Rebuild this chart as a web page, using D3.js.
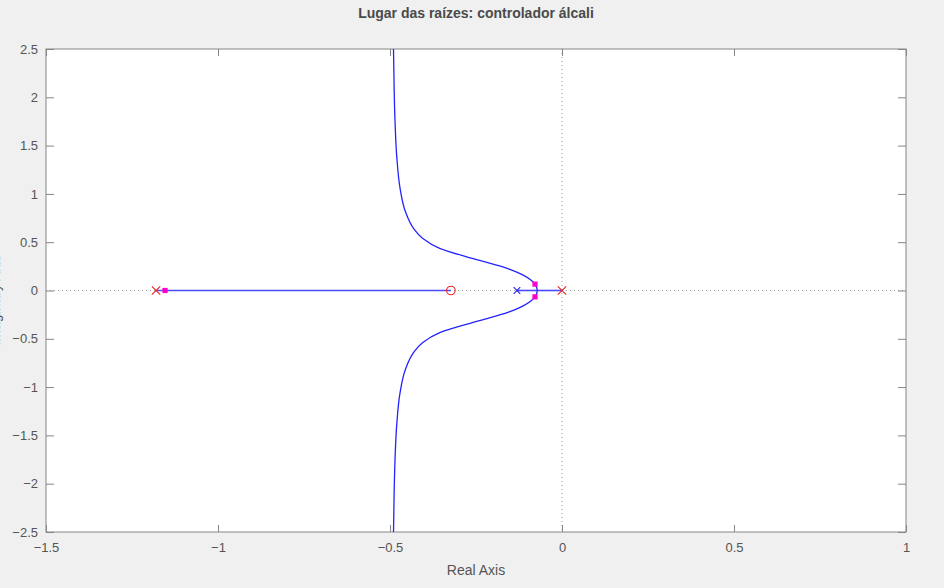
<!DOCTYPE html>
<html>
<head>
<meta charset="utf-8">
<script src="https://cdn.jsdelivr.net/npm/d3@7"></script>
<style>
  html, body { margin: 0; padding: 0; background: #f0f0f0; }
  svg { display: block; font-family: "Liberation Sans", Arial, Helvetica, sans-serif; }
</style>
</head>
<body>
<svg id="chart" width="944" height="588"></svg>
<script>
// Root locus of the alkali controller loop
const titleText = "Lugar das raízes: controlador álcali";
const xLabel = "Real Axis";
const yLabel = "Imaginary Axis";

const xTicks = [-1.5, -1, -0.5, 0, 0.5, 1];
const yTicks = [2.5, 2, 1.5, 1, 0.5, 0, -0.5, -1, -1.5, -2, -2.5];

// open-loop poles and zero
const polesRed = [-1.18, 0];
const polesBlue = [-0.131];
const zerosRe = [-0.323];

// closed-loop poles at the chosen gain
const clRe = [-1.154, -0.0785, -0.0785];
const clIm = [0, 0.066, -0.066];

// real-axis branches
const realBranchA = [-1.18, -0.323];
const realBranchB = [0, -0.072];
const realBranchC = [-0.131, -0.072];

// complex branches leaving the breakaway point
const upperRe = [-0.072, -0.0725, -0.0755, -0.0785, -0.0905, -0.1155, -0.1555, -0.2555, -0.3555, -0.4055, -0.4305, -0.4555, -0.4705, -0.4805, -0.4855, -0.4880, -0.4900];
const upperIm = [0, 0.017, 0.047, 0.066, 0.109, 0.165, 0.225, 0.327, 0.437, 0.542, 0.638, 0.820, 1.053, 1.394, 1.761, 2.098, 2.572];
const lowerRe = [-0.072, -0.0725, -0.0755, -0.0785, -0.0905, -0.1155, -0.1555, -0.2555, -0.3555, -0.4055, -0.4305, -0.4555, -0.4705, -0.4805, -0.4855, -0.4880, -0.4900];
const lowerIm = [0, -0.017, -0.047, -0.066, -0.109, -0.165, -0.225, -0.327, -0.437, -0.542, -0.638, -0.820, -1.053, -1.394, -1.761, -2.098, -2.572];

const svg = d3.select("#chart");
const L = 46, R = 906, T = 49, B = 532;

const x = d3.scaleLinear().domain([-1.5, 1]).range([L, R]);
const y = d3.scaleLinear().domain([-2.5, 2.5]).range([B, T]);

const axisColor = "#858585";
const textColor = "#555";
const locusColor = "#2323ff";

// axes background
svg.append("rect").attr("x", L).attr("y", T).attr("width", R - L).attr("height", B - T).attr("fill", "#fff");

const clipId = "plotclip";
svg.append("defs").append("clipPath").attr("id", clipId)
  .append("rect").attr("x", L).attr("y", T).attr("width", R - L).attr("height", B - T);

// dotted zero lines
svg.append("line").attr("x1", L).attr("x2", R).attr("y1", y(0)).attr("y2", y(0))
  .attr("stroke", "#9a9a9a").attr("stroke-dasharray", "1,3").attr("stroke-width", 1);
svg.append("line").attr("x1", x(0)).attr("x2", x(0)).attr("y1", T).attr("y2", B)
  .attr("stroke", "#9a9a9a").attr("stroke-dasharray", "1,3").attr("stroke-width", 1);

// axes with inward ticks
function styleAxis(g, labels) {
  g.select(".domain").remove();
  g.selectAll(".tick line").attr("stroke", axisColor);
  g.selectAll(".tick text").attr("fill", labels ? textColor : "none")
    .attr("font-size", 13);
}
svg.append("g").attr("transform", `translate(0,${B})`)
  .call(d3.axisBottom(x).tickValues(xTicks).tickFormat(d3.format("")).tickSize(-7).tickPadding(11))
  .call(g => styleAxis(g, true));
svg.append("g").attr("transform", `translate(0,${T})`)
  .call(d3.axisTop(x).tickValues(xTicks).tickFormat("").tickSize(-7))
  .call(g => styleAxis(g, false));
svg.append("g").attr("transform", `translate(${L},0)`)
  .call(d3.axisLeft(y).tickValues(yTicks).tickFormat(d3.format("")).tickSize(-8).tickPadding(8))
  .call(g => styleAxis(g, true));
svg.append("g").attr("transform", `translate(${R},0)`)
  .call(d3.axisRight(y).tickValues(yTicks).tickFormat("").tickSize(-8))
  .call(g => styleAxis(g, false));

// frame
svg.append("rect").attr("x", L).attr("y", T).attr("width", R - L).attr("height", B - T)
  .attr("fill", "none").attr("stroke", axisColor).attr("stroke-width", 1);

const plot = svg.append("g").attr("clip-path", `url(#${clipId})`);

const line = d3.line().x(d => x(d[0])).y(d => y(d[1])).curve(d3.curveMonotoneY);
const straight = d3.line().x(d => x(d[0])).y(d => y(d[1]));

[realBranchA, realBranchB, realBranchC].forEach(br => {
  plot.append("path").attr("d", straight(br.map(v => [v, 0])))
    .attr("fill", "none").attr("stroke", "#4a4aff").attr("stroke-width", 1.6);
});
plot.append("path").attr("d", line(upperRe.map((v, i) => [v, upperIm[i]])))
  .attr("fill", "none").attr("stroke", locusColor).attr("stroke-width", 1.3);
plot.append("path").attr("d", line(lowerRe.map((v, i) => [v, lowerIm[i]])))
  .attr("fill", "none").attr("stroke", locusColor).attr("stroke-width", 1.3);

// markers
function cross(g, re, color, h) {
  const cx = x(re), cy = y(0);
  g.append("path").attr("d", `M${cx - h},${cy - h}L${cx + h},${cy + h}M${cx - h},${cy + h}L${cx + h},${cy - h}`)
    .attr("stroke", color).attr("stroke-width", 1.1).attr("fill", "none");
}
polesRed.forEach(p => cross(plot, p, "#ee2222", 4.2));
polesBlue.forEach(p => cross(plot, p, "#2222ee", 3.3));
zerosRe.forEach(z => plot.append("circle").attr("cx", x(z)).attr("cy", y(0)).attr("r", 4.3)
  .attr("fill", "none").attr("stroke", "#ee2222").attr("stroke-width", 1.1));
clRe.forEach((re, i) => plot.append("rect")
  .attr("x", x(re) - 2.6).attr("y", y(clIm[i]) - 2.6).attr("width", 5.2).attr("height", 5.2)
  .attr("fill", "#ff00cc"));

// texts
svg.append("text").attr("x", 476).attr("y", 18).attr("text-anchor", "middle")
  .attr("font-size", 14).attr("font-weight", "bold").attr("fill", "#4a4a4a").text(titleText);
svg.append("text").attr("x", 476).attr("y", 575).attr("text-anchor", "middle")
  .attr("font-size", 14).attr("fill", textColor).text(xLabel);
svg.append("text").attr("transform", "translate(0,300) rotate(-90)").attr("text-anchor", "middle")
  .attr("font-size", 14).attr("fill", textColor).text(yLabel);
</script>
</body>
</html>
